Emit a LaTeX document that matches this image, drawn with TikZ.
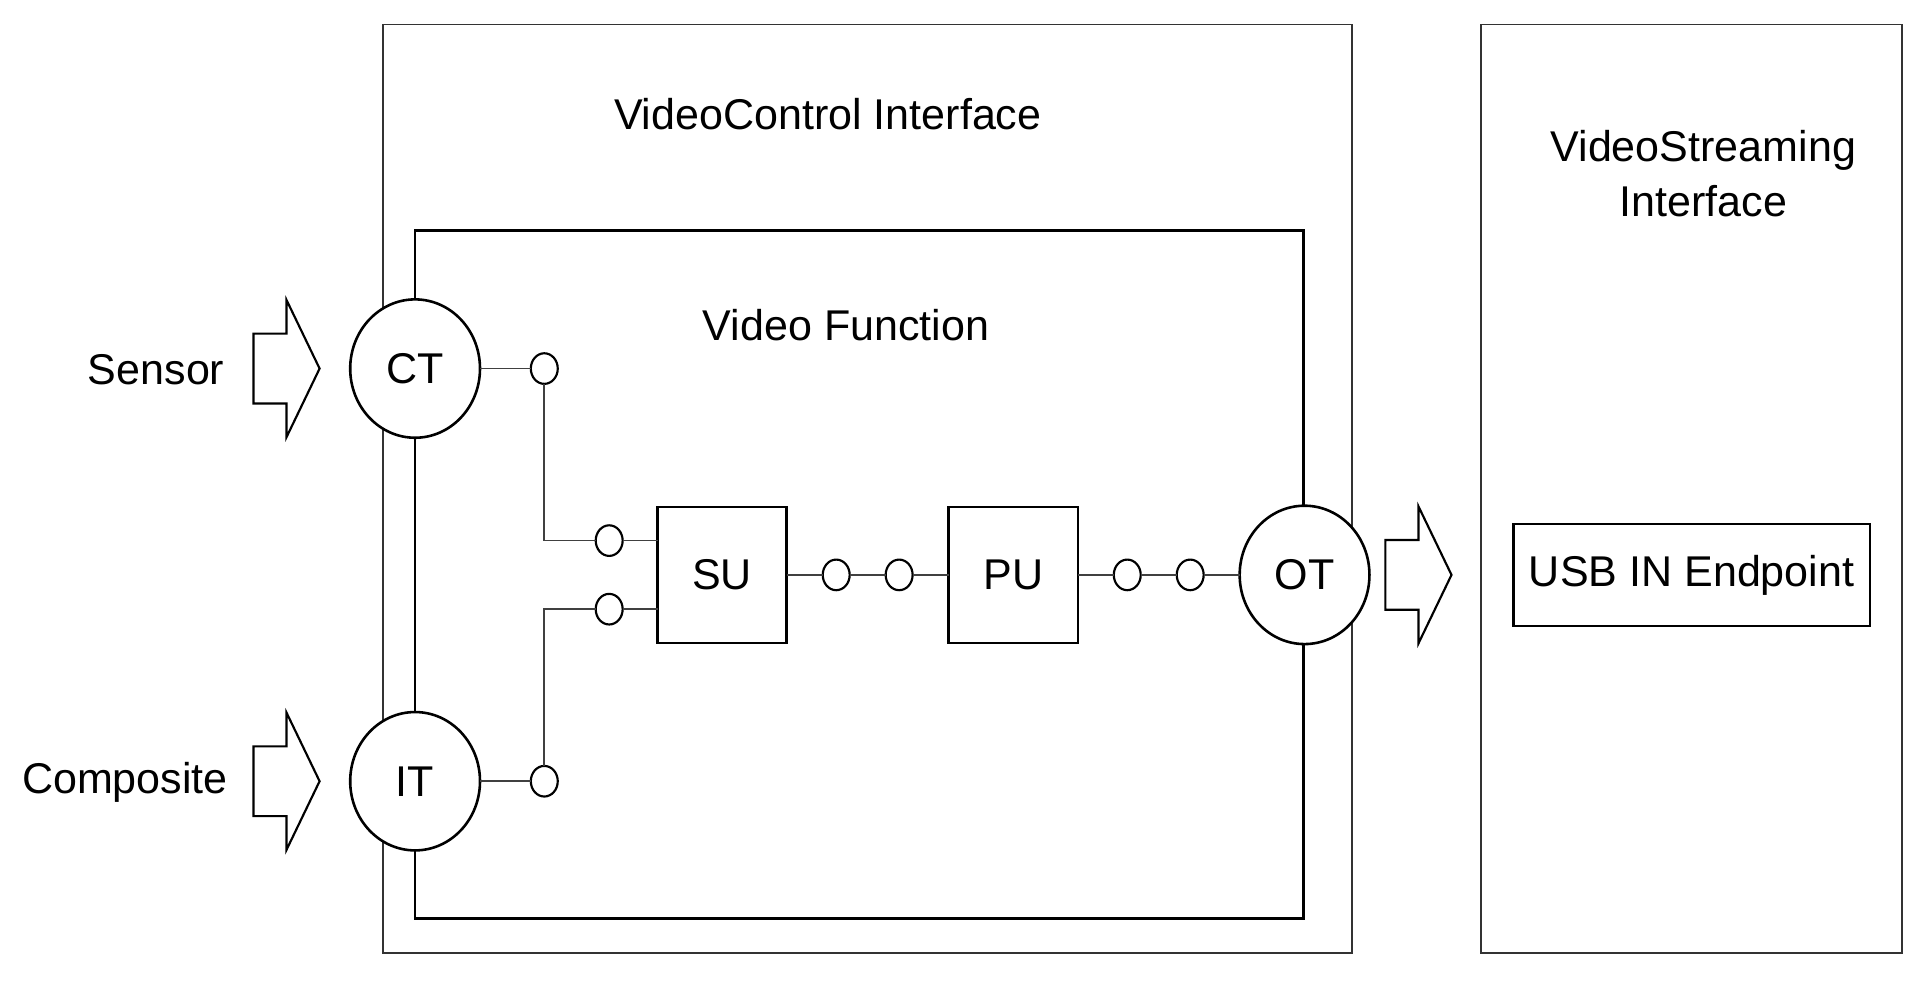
\documentclass[tikz,border=0pt]{standalone}
\usepackage{fontspec}
\setmainfont{Liberation Sans}
\usepackage{tikz}
\usetikzlibrary{positioning,shapes.geometric}
\tikzset{
  iface/.style={draw=black!80, line width=0.4pt},
  func/.style={draw=black, line width=0.6pt},
  term/.style={draw=black, line width=0.6pt, ellipse, fill=white, inner sep=0pt, outer sep=0pt,
    minimum width=10.6mm, minimum height=11.3mm},
  unit/.style={draw=black, line width=0.6pt, fill=white, inner sep=0pt, outer sep=0pt,
    minimum width=10.55mm, minimum height=11.1mm},
  port/.style={draw=black, line width=0.5pt, ellipse, fill=white, inner sep=0pt, outer sep=0pt,
    minimum width=2.2mm, minimum height=2.5mm},
  endpoint/.style={draw=black, line width=0.6pt, inner sep=0pt,
    minimum width=29.1mm, minimum height=8.33mm},
  wire/.style={draw=black!75, line width=0.4pt},
  lbl/.style={anchor=base, inner sep=0pt},
  blockarrow/.pic={
    \draw[line width=0.5pt, fill=white] (0,-28.5) -- (27,-28.5) -- (27,-56) -- (54,0)
      -- (27,56) -- (27,28.5) -- (0,28.5) -- cycle;
  }
}

\begin{document}
\begin{tikzpicture}[x=0.1mm, y=-0.1mm, font=\fontsize{10}{12.7}\selectfont, node distance=2.94mm]
    \useasboundingbox (0,0) rectangle (1568,802);
    % interfaces
    \node[iface, minimum width=79.1mm, minimum height=75.8mm] (vc) at (708.5,399) {};
    \node[iface, minimum width=34.35mm, minimum height=75.8mm] (vs) at (1381.25,399) {};
    \node[func, minimum width=72.55mm, minimum height=56.16mm] (vf) at (701.75,469.2) {};
    \node[lbl] (vctitle) at (676,105.6) {VideoControl Interface};
    \node[align=center, inner sep=0pt] (vstitle) at (1391,141.8) {VideoStreaming\\Interface};
    \node[lbl] (vftitle) at (691,277.7) {Video Function};

    % terminals and units
    \node[term] (ct) at (339,301) {CT};
    \node[term] (it) at (339,638) {IT};
    \node[port] (ctout) at (444.5,301) {};
    \node[port] (itout) at (444.5,638) {};
    \node[unit] (su) at (589.75,469.5) {SU};
    \node[port] (suin1) at (497.5,441.5) {};
    \node[port] (suin2) at (497.5,497.5) {};
    \node[port, right=of su] (suout) {};
    \node[port, right=of suout] (puin) {};
    \node[unit, right=of puin] (pu) {PU};
    \node[port, right=of pu] (puout) {};
    \node[port, right=of puout] (otin) {};
    \node[term, right=of otin] (ot) {OT};
    \node[endpoint] (usb) at (1381.5,469.7) {USB IN Endpoint};

    \node[lbl] (sensor) at (127.5,314.4) {Sensor};
    \node[lbl] (composite) at (102,647.9) {Composite};
    \pic at ([xshift=-7.9mm]ct.west) {blockarrow};
    \pic at ([xshift=-7.9mm]it.west) {blockarrow};
    \pic at ([xshift=1.3mm]ot.east) {blockarrow};

    % links
    \draw[wire] (ct) -- (ctout);
    \draw[wire] (it) -- (itout);
    \draw[wire] (ctout) |- (suin1);
    \draw[wire] (itout) |- (suin2);
    \draw[wire] (suin1) -- (suin1 -| su.west);
    \draw[wire] (suin2) -- (suin2 -| su.west);
    \draw[wire] (su) -- (suout);
    \draw[wire] (suout) -- (puin);
    \draw[wire] (puin) -- (pu);
    \draw[wire] (pu) -- (puout);
    \draw[wire] (puout) -- (otin);
    \draw[wire] (otin) -- (ot);
\end{tikzpicture}
\end{document}
